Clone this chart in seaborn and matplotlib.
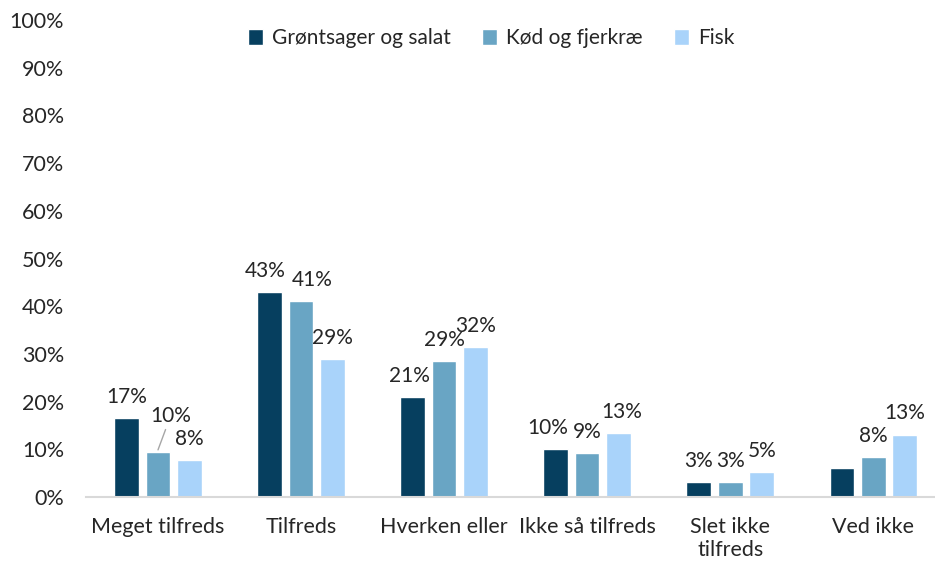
import matplotlib
matplotlib.use("Agg")
import matplotlib.pyplot as plt
import pandas as pd
import seaborn as sns

# Data
categories = ["Meget tilfreds", "Tilfreds", "Hverken eller", "Ikke så tilfreds",
              "Slet ikke\ntilfreds", "Ved ikke"]
series = ["Grøntsager og salat", "Kød og fjerkræ", "Fisk"]
groentsager = [16.5, 43.0, 21.0, 10.0, 3.1, 6.1]
koed = [9.5, 41.0, 28.5, 9.2, 3.1, 8.4]
fisk = [7.7, 29.0, 31.5, 13.4, 5.2, 13.1]
labels_groentsager = ["17%", "43%", "21%", "10%", "3%", ""]
labels_koed = ["10%", "41%", "29%", "9%", "3%", "8%"]
labels_fisk = ["8%", "29%", "32%", "13%", "5%", "13%"]

colors = ["#063f5f", "#69a5c4", "#a9d3fa"]
fs = 15.5
lfs = 15

df = pd.DataFrame({
    "kategori": categories * 3,
    "gruppe": [series[0]] * 6 + [series[1]] * 6 + [series[2]] * 6,
    "andel": groentsager + koed + fisk,
})

sns.set_style("white")
plt.rcParams["font.family"] = ["Lato", "DejaVu Sans"]

fig = plt.figure(figsize=(9.35, 5.72), dpi=100)
ax = fig.add_axes([0.0925, 0.131, 0.918, 0.834])

sns.barplot(data=df, x="kategori", y="andel", hue="gruppe", palette=colors,
            width=0.66, gap=0.22, ax=ax, saturation=1)

# data labels, a few nudged sideways like in the original
nudge = {(0, 1): -3, (1, 1): 8, (0, 3): -6, (2, 3): 2, (0, 2): -2}
all_labels = [labels_groentsager, labels_koed, labels_fisk]
for si, (cont, labs) in enumerate(zip(ax.containers, all_labels)):
    anns = ax.bar_label(cont, labels=labs, padding=8, fontsize=lfs)
    for ci, a in enumerate(anns):
        dx = nudge.get((si, ci), 0)
        if dx:
            a.xyann = (dx, 8)

# the "10%" label in first group is pulled aside with a leader line
bar = ax.containers[1][0]
bx = bar.get_x() + bar.get_width() / 2
by = bar.get_height()
for t in ax.texts:
    if t.get_text() == "10%" and abs(t.xy[0] - bx) < 1e-6:
        t.set_visible(False)
ax.annotate("10%", xy=(bx, by + 0.4), xytext=(9, 17), textcoords="offset points",
            ha="center", va="bottom", fontsize=lfs,
            arrowprops=dict(arrowstyle="-", color="#a6a6a6", lw=1,
                            shrinkA=0, shrinkB=0))

ax.set_ylim(0, 100)
ax.set_yticks(range(0, 101, 10))
ax.set_yticklabels([f"{v}%" for v in range(0, 101, 10)], fontsize=fs)
ax.tick_params(axis="x", labelsize=fs, length=0, pad=14)
ax.tick_params(axis="y", length=0, pad=16)
ax.set_xlabel("")
ax.set_ylabel("")
for s in ["top", "right", "left"]:
    ax.spines[s].set_visible(False)
ax.spines["bottom"].set_color("#d9d9d9")
ax.spines["bottom"].set_linewidth(1.5)

ax.legend(loc="center", bbox_to_anchor=(0.525, 0.933), bbox_transform=fig.transFigure,
          ncol=3, frameon=False, fontsize=15, handlelength=0.75, handleheight=0.75,
          handletextpad=0.4, columnspacing=1.5)

fig.savefig("out.png", dpi=100)
